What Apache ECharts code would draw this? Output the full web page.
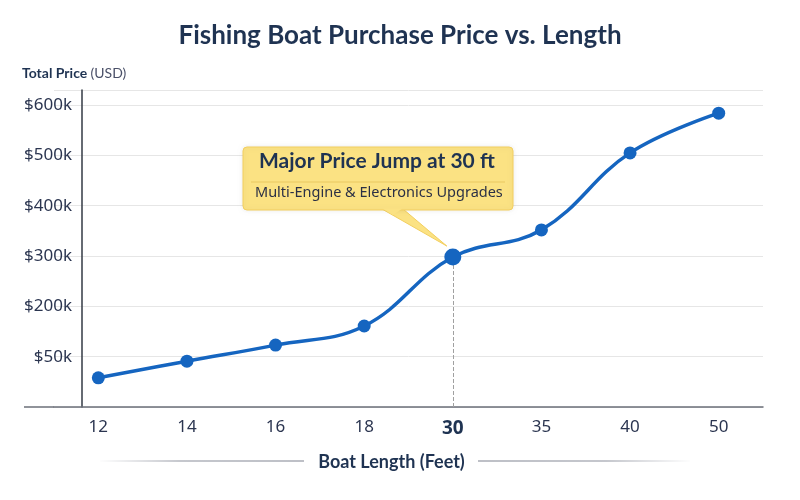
<!DOCTYPE html>
<html>
<head>
<meta charset="utf-8">
<script src="https://cdn.jsdelivr.net/npm/echarts@6/dist/echarts.min.js"></script>
<style>
  html, body { margin: 0; padding: 0; background: #fff; }
  #chart { width: 800px; height: 500px; }
</style>
</head>
<body>
<div id="chart"></div>
<script>
const lengths = ["12", "14", "16", "18", "30", "35", "40", "50"];
const prices = [58000, 91000, 123000, 161000, 298000, 352000, 505000, 584000];
const yTickLabels = { 100000: "$50k", 200000: "$200k", 300000: "$300k", 400000: "$400k", 500000: "$500k", 600000: "$600k" };
const jumpIndex = 4;
const calloutTitle = "Major Price Jump at 30 ft";
const calloutText = "Multi-Engine & Electronics Upgrades";

const navy = "#1f3352";
const blue = "#1565c0";

const chart = echarts.init(document.getElementById("chart"));

const seriesData = prices.map((v, i) =>
  i === jumpIndex ? { value: v, symbolSize: 17 } : v
);

chart.setOption({
  backgroundColor: "#fff",
  animation: false,
  title: {
    text: "Fishing Boat Purchase Price vs. Length",
    left: "center",
    top: 18,
    textStyle: { fontFamily: "Lato", fontWeight: "bold", fontSize: 26, color: navy },
  },
  grid: { left: 54, right: 37, top: 90, bottom: 93 },
  xAxis: {
    type: "category",
    data: lengths,
    boundaryGap: true,
    axisLine: { lineStyle: { color: "#6b6f78", width: 1.5 } },
    axisTick: { alignWithLabel: true, length: 5, lineStyle: { color: "#c8c8c8" } },
    axisLabel: {
      margin: 12,
      fontFamily: "Noto Sans",
      fontSize: 17,
      color: "#2b3550",
      formatter: (v) => (v === "30" ? "{b|" + v + "}" : v),
      rich: { b: { fontFamily: "Noto Sans", fontSize: 19, fontWeight: "bold", color: navy } },
    },
    name: "Boat Length (Feet)",
    nameLocation: "middle",
    nameGap: 46,
    nameTextStyle: { fontFamily: "Lato", fontWeight: "bold", fontSize: 18, color: navy, padding: [0, 34, 0, 0] },
  },
  yAxis: {
    type: "value",
    min: 0,
    max: 630000,
    interval: 100000,
    offset: -28,
    name: "{b|Total Price} {n|(USD)}",
    nameLocation: "end",
    nameGap: 10,
    nameTextStyle: {
      align: "left",
      padding: [0, 0, 0, -60],
      rich: {
        b: { fontFamily: "Lato", fontWeight: "bold", fontSize: 14, color: navy },
        n: { fontFamily: "Lato", fontSize: 14, color: "#4a5068" },
      },
    },
    axisLine: { show: true, lineStyle: { color: "#333a45", width: 1.5 } },
    axisTick: { show: false },
    splitLine: { lineStyle: { color: "#e6e6e6" } },
    axisLabel: {
      margin: 10,
      fontFamily: "Noto Sans",
      fontSize: 17,
      color: "#2b3550",
      formatter: (v) => yTickLabels[v] || "",
    },
  },
  series: [
    {
      type: "line",
      data: seriesData,
      smooth: 0.4,
      symbol: "circle",
      symbolSize: 13,
      lineStyle: { color: blue, width: 3.5 },
      itemStyle: { color: blue },
      markLine: {
        silent: true,
        symbol: "none",
        label: { show: false },
        lineStyle: { color: "#a0a0a0", type: "dashed", width: 1 },
        data: [[{ coord: [lengths[jumpIndex], 0] }, { coord: [lengths[jumpIndex], prices[jumpIndex]] }]],
      },
      z: 5,
    },
  ],
});

// callout and axis-name decoration placed from the chart's own coordinates
const pt = chart.convertToPixel({ seriesIndex: 0 }, [jumpIndex, prices[jumpIndex]]);
const boxX = 243, boxY = 147, boxW = 270, boxH = 63;
const fadeL = { type: "linear", x: 0, y: 0, x2: 1, y2: 0, colorStops: [{ offset: 0, color: "rgba(110,115,130,0)" }, { offset: 0.4, color: "rgba(110,115,130,0.8)" }, { offset: 1, color: "rgba(110,115,130,0.9)" }] };
const fadeR = { type: "linear", x: 0, y: 0, x2: 1, y2: 0, colorStops: [{ offset: 0, color: "rgba(110,115,130,0.9)" }, { offset: 0.6, color: "rgba(110,115,130,0.8)" }, { offset: 1, color: "rgba(110,115,130,0)" }] };

chart.setOption({
  graphic: [
    {
      type: "polygon",
      z: 20,
      shape: { points: [[boxX + 139, boxY + boxH - 1], [boxX + 160, boxY + boxH - 1], [pt[0] - 6, pt[1] - 11]] },
      style: { fill: "#fbe283", stroke: "#f3cf5f", lineWidth: 1 },
    },
    {
      type: "rect",
      z: 21,
      shape: { x: boxX, y: boxY, width: boxW, height: boxH, r: 4 },
      style: { fill: "#fbe283", stroke: "#f3cf5f", lineWidth: 1, shadowBlur: 4, shadowColor: "rgba(0,0,0,0.08)" },
    },
    {
      type: "polygon",
      z: 22,
      shape: { points: [[boxX + 139.5, boxY + boxH - 1.5], [boxX + 159.5, boxY + boxH - 1.5], [boxX + 150, boxY + boxH + 5]] },
      style: { fill: "#fbe283" },
    },
    {
      type: "line",
      z: 22,
      shape: { x1: boxX + 8, y1: boxY + 35, x2: boxX + boxW - 8, y2: boxY + 35 },
      style: { stroke: "#e9c860", lineWidth: 1 },
    },
    {
      type: "text",
      z: 23,
      left: boxX + 16,
      top: boxY + 4,
      style: { text: calloutTitle, font: "bold 21px Lato", fill: navy },
    },
    {
      type: "text",
      z: 23,
      left: boxX + 12,
      top: boxY + 38,
      style: { text: calloutText, font: "14.5px 'Noto Sans'", fill: "#2b3045" },
    },
    {
      type: "line",
      shape: { x1: 100, y1: 461, x2: 304, y2: 461 },
      style: { lineWidth: 1.2, stroke: fadeL },
    },
    {
      type: "line",
      shape: { x1: 478, y1: 461, x2: 690, y2: 461 },
      style: { lineWidth: 1.2, stroke: fadeR },
    },
    {
      type: "line",
      shape: { x1: 24, y1: 407, x2: 54, y2: 407 },
      style: { stroke: "#6b6f78", lineWidth: 1.5 },
    },
  ],
});

window.addEventListener("resize", () => {
  chart.resize();
});
</script>
</body>
</html>
